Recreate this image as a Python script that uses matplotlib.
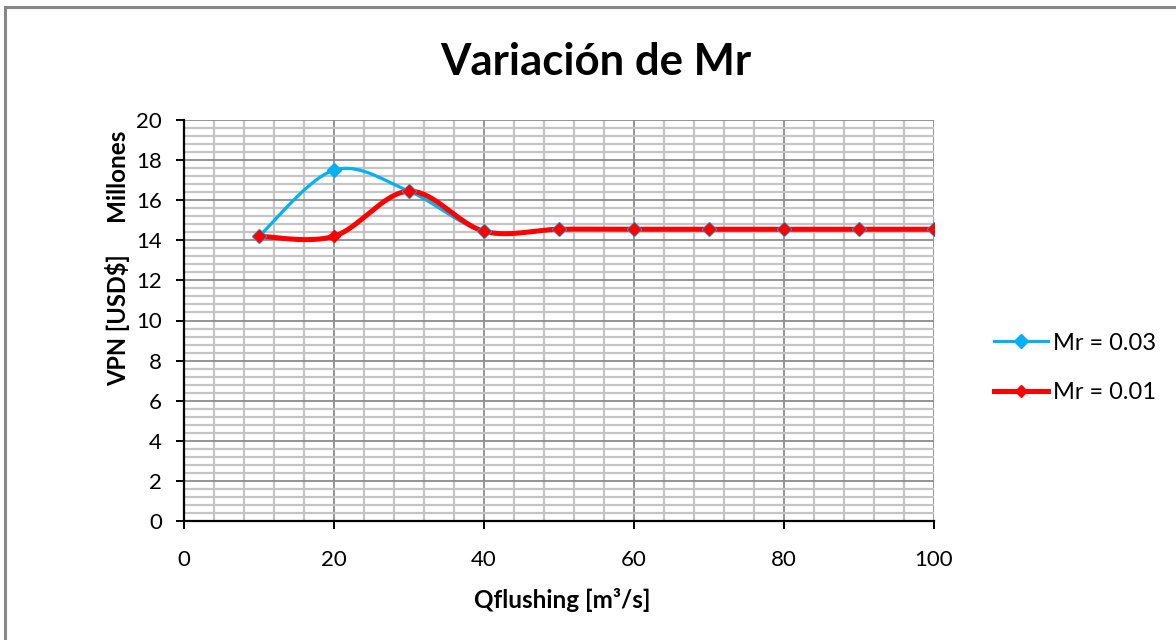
import matplotlib
matplotlib.use("Agg")
import matplotlib.pyplot as plt
import numpy as np
from matplotlib.lines import Line2D
from matplotlib.patches import Rectangle

plt.rcParams['font.family'] = ['Lato', 'DejaVu Sans']

# datos
q_flushing = [10, 20, 30, 40, 50, 60, 70, 80, 90, 100]
vpn_mr003 = [14.2, 17.5, 16.45, 14.45, 14.55, 14.55, 14.55, 14.55, 14.55, 14.55]
vpn_mr001 = [14.2, 14.2, 16.45, 14.45, 14.55, 14.55, 14.55, 14.55, 14.55, 14.55]
labels = ["Mr = 0.03", "Mr = 0.01"]
colors = ["#00B0F0", "#FF0000"]


def smooth(x, y, n=40):
    """Curva suavizada tipo Excel (Catmull-Rom como Bezier cúbica)."""
    p = np.column_stack([x, y]).astype(float)
    p = np.vstack([p[0], p, p[-1]])
    t = np.linspace(0, 1, n)[:, None]
    out = []
    for i in range(1, len(p) - 2):
        p0, p1, p2, p3 = p[i - 1], p[i], p[i + 1], p[i + 2]
        c1 = p1 + (p2 - p0) / 6
        c2 = p2 - (p3 - p1) / 6
        seg = ((1 - t) ** 3 * p1 + 3 * (1 - t) ** 2 * t * c1
               + 3 * (1 - t) * t ** 2 * c2 + t ** 3 * p2)
        out.append(seg if i == 1 else seg[1:])
    out = np.vstack(out)
    return out[:, 0], out[:, 1]


fig = plt.figure(figsize=(11.76, 6.4), dpi=100)
ax = fig.add_axes([184 / 1176, 1 - 521 / 640, 750 / 1176, 401 / 640])

# borde del gráfico
fig.patches.append(Rectangle((5 / 1176, -0.05), 1.2, 1 - 7 / 640 + 0.05,
                             transform=fig.transFigure, fill=False,
                             edgecolor="#878787", linewidth=2.2))

ax.set_xlim(0, 100)
ax.set_ylim(0, 20)
ax.set_xticks(np.arange(0, 101, 20))
ax.set_yticks(np.arange(0, 21, 2))
ax.set_xticks(np.arange(0, 101, 4), minor=True)
ax.set_yticks(np.arange(0, 20.01, 0.4), minor=True)
ax.grid(which="minor", color="#C4C4C4", linewidth=1.6)
ax.grid(which="major", color="#8C8C8C", linewidth=1.3)
ax.set_axisbelow(True)
ax.tick_params(which="minor", length=0)
ax.tick_params(which="major", direction="out", length=6, width=1.4,
               labelsize=16, color="black")
ax.tick_params(axis="x", pad=15)
ax.tick_params(axis="y", pad=10)
for s in ["top", "right"]:
    ax.spines[s].set_visible(False)
for s in ["left", "bottom"]:
    ax.spines[s].set_linewidth(1.6)
    ax.spines[s].set_zorder(5)

handles = []
for yv, lab, col, lw, ms in [(vpn_mr003, labels[0], colors[0], 2.3, 7),
                             (vpn_mr001, labels[1], colors[1], 3.6, 6)]:
    sx, sy = smooth(q_flushing, yv)
    ax.plot(sx, sy, color=col, linewidth=lw, solid_capstyle="round", zorder=3)
    ax.plot(q_flushing, yv, linestyle="none", marker="D", markersize=ms,
            color=col, zorder=4)
    handles.append(Line2D([], [], color=col, linewidth=lw, marker="D",
                          markersize=ms, label=lab))

ax.legend(handles=handles, loc="center left", bbox_to_anchor=(1.0675, 0.3815),
          frameon=False, fontsize=17, handlelength=2.29, labelspacing=1.21,
          handletextpad=0.21, numpoints=1, borderaxespad=0)

fig.text(596 / 1176, 1 - 62 / 640, "Variación de Mr", ha="center",
         va="center", fontsize=31.5, fontweight="bold")
fig.text(118 / 1176, 0.5 * (1 - 120 / 640 + 1 - 521 / 640), "VPN [USD$]",
         rotation=90, ha="center", va="center", fontsize=17, fontweight="bold")
fig.text(117 / 1176, 1 - 175 / 640, "Millones", rotation=90, ha="center",
         va="center", fontsize=17.5, fontweight="bold")
fig.text(562 / 1176, 1 - 600 / 640, "Qflushing [m³/s]", ha="center",
         va="center", fontsize=17.5, fontweight="bold")

fig.savefig("out.png", dpi=100)
